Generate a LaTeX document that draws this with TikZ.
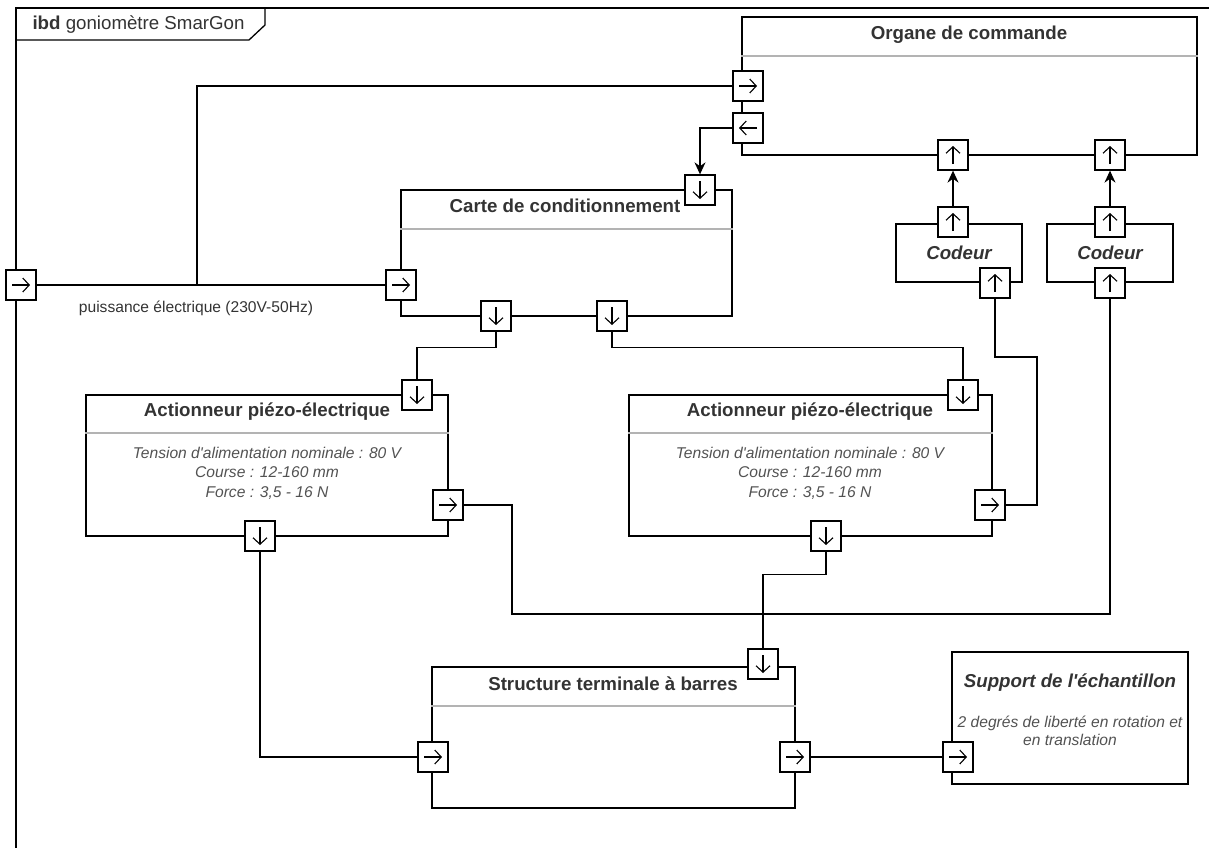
\documentclass[tikz,border=0pt]{standalone}
\usepackage{fontspec}
\setmainfont{Liberation Sans}
\usetikzlibrary{arrows.meta}

\definecolor{txtgray}{HTML}{333333}
\definecolor{sepgray}{HTML}{B3B3B3}

\tikzset{
	block/.style={draw, line width=1.3pt, inner sep=0pt},
	port/.style={draw, fill=white, line width=1.3pt, minimum size=30pt, inner sep=0pt},
	glyph/.style={line width=1.1pt, -{Straight Barb[length=6.5pt,width=14pt]}},
	pR/.style={port, path picture={\draw[glyph] ([xshift=-9pt]path picture bounding box.center) -- ([xshift=9pt]path picture bounding box.center);}},
	pL/.style={port, path picture={\draw[glyph] ([xshift=9pt]path picture bounding box.center) -- ([xshift=-9pt]path picture bounding box.center);}},
	pU/.style={port, path picture={\draw[glyph] ([yshift=-9pt]path picture bounding box.center) -- ([yshift=9pt]path picture bounding box.center);}},
	pD/.style={port, path picture={\draw[glyph] ([yshift=9pt]path picture bounding box.center) -- ([yshift=-9pt]path picture bounding box.center);}},
	wire/.style={line width=1.3pt},
	flow/.style={wire, -{Stealth[length=12pt,width=11pt]}},
	sep/.style={line width=1.8pt, color=sepgray},
	title/.style={font=\fontsize{18.7}{22}\selectfont\bfseries, text=txtgray},
	body/.style={font=\fontsize{15.6}{19.5}\selectfont\itshape, text=txtgray!85, align=center},
}

\begin{document}
\begin{tikzpicture}[x=1pt, y=-1pt]
		%%%%% START %%%%%
		\useasboundingbox (0,0) rectangle (1209,848);
		
		% frame
		\draw[wire] (1209,8) -- (16,8) -- (16,848);
		\draw[wire] (16,40) -- (249,40) -- (265,25) -- (265,8);
		\node[anchor=west, font=\fontsize{18.7}{22}\selectfont, text=txtgray] (frame-t) at (29,25) {\textbf{ibd} goniomètre SmarGon};
		
		% blocks
		\node[block, minimum width=455pt, minimum height=138pt] (organe) at (969.5,86) {};
		\node[block, minimum width=331pt, minimum height=126pt] (carte) at (566.5,253) {};
		\node[block, minimum width=126pt, minimum height=58pt] (cod1) at (959,253) {};
		\node[block, minimum width=126pt, minimum height=58pt] (cod2) at (1110,253) {};
		\node[block, minimum width=362pt, minimum height=141pt] (act1) at (267,465.5) {};
		\node[block, minimum width=363pt, minimum height=141pt] (act2) at (810.5,465.5) {};
		\node[block, minimum width=363pt, minimum height=141pt] (struct) at (613.5,737.5) {};
		\node[block, minimum width=236pt, minimum height=132pt] (support) at (1070,718) {};
		
		\draw[sep] (organe.west |- 0,56) -- (organe.east |- 0,56);
		\draw[sep] (carte.west |- 0,229) -- (carte.east |- 0,229);
		\draw[sep] (act1.west |- 0,433) -- (act1.east |- 0,433);
		\draw[sep] (act2.west |- 0,433) -- (act2.east |- 0,433);
		\draw[sep] (struct.west |- 0,706) -- (struct.east |- 0,706);
		
		% texts
		\node[title] (organe-t) at (969,35) {Organe de commande};
		\node[title] (carte-t) at (565,206) {Carte de conditionnement};
		\node[title, font=\fontsize{18.7}{22}\selectfont\bfseries\itshape] (cod1-t) at (959,253) {Codeur};
		\node[title, font=\fontsize{18.7}{22}\selectfont\bfseries\itshape] (cod2-t) at (1110,253) {Codeur};
		\node[title] (act1-t) at (267,412) {Actionneur piézo-électrique};
		\node[body] (act1-b) at (267,473) {Tension d\textquotesingle alimentation nominale : 80 V\\Course : 12-160 mm\\Force : 3,5 - 16 N};
		\node[title] (act2-t) at (810,412) {Actionneur piézo-électrique};
		\node[body] (act2-b) at (810,473) {Tension d\textquotesingle alimentation nominale : 80 V\\Course : 12-160 mm\\Force : 3,5 - 16 N};
		\node[title] (struct-t) at (613,684) {Structure terminale à barres};
		\node[title, font=\fontsize{18.7}{22}\selectfont\bfseries\itshape] (support-t) at (1070,683) {Support de l\textquotesingle échantillon};
		\node[body, font=\fontsize{15.6}{18}\selectfont\itshape] (support-b) at (1070,731) {2 degrés de liberté en rotation et\\en translation};
		\node[font=\fontsize{15.6}{19}\selectfont, text=txtgray] (pow-t) at (196,308) {puissance électrique (230V-50Hz)};
		
		% ports
		\node[pR] (p-pow) at (21,285) {};
		\node[pR] (p-org-in) at (748,86) {};
		\node[pL] (p-org-out) at (748,128) {};
		\node[pU] (p-org-b1) at (953,155) {};
		\node[pU] (p-org-b2) at (1110,155) {};
		\node[pD] (p-carte-ctl) at (700,190) {};
		\node[pR] (p-carte-in) at (401,285) {};
		\node[pD] (p-carte-b1) at (496,316) {};
		\node[pD] (p-carte-b2) at (612,316) {};
		\node[pU] (p-cod1-top) at (953,222) {};
		\node[pU] (p-cod1-bot) at (995,283) {};
		\node[pU] (p-cod2-top) at (1110,222) {};
		\node[pU] (p-cod2-bot) at (1110,283) {};
		\node[pD] (p-act1-top) at (417,395) {};
		\node[pR] (p-act1-r) at (448,505) {};
		\node[pD] (p-act1-b) at (260,536) {};
		\node[pD] (p-act2-top) at (963,395) {};
		\node[pR] (p-act2-r) at (990,505) {};
		\node[pD] (p-act2-b) at (826,536) {};
		\node[pD] (p-str-top) at (763,664) {};
		\node[pR] (p-str-l) at (433,757) {};
		\node[pR] (p-str-r) at (795,757) {};
		\node[pR] (p-sup) at (958,757) {};
		
		% wires
		\coordinate (j-pow) at (197,285);
		\draw[wire] (p-pow.east) -- (p-carte-in.west);
		\draw[wire] (j-pow) |- (p-org-in.west);
		\draw[flow] (p-org-out.west) -| (p-carte-ctl.north);
		\draw[flow] (p-cod1-top.north) -- (p-org-b1.south);
		\draw[flow] (p-cod2-top.north) -- (p-org-b2.south);
		\draw[wire] (p-carte-b1.south) -- ++(0,16) -| (p-act1-top.north);
		\draw[wire] (p-carte-b2.south) -- ++(0,16) -| (p-act2-top.north);
		\draw[wire] (p-cod1-bot.south) |- (1037,357) |- (p-act2-r.east);
		\draw[wire] (p-cod2-bot.south) |- (512,614) |- (p-act1-r.east);
		\draw[wire] (p-act2-b.south) -- ++(0,23) -| (p-str-top.north);
		\draw[wire] (p-act1-b.south) |- (p-str-l.west);
		\draw[wire] (p-str-r.east) -- (p-sup.west);
		
		%%%%% END %%%%%
	\end{tikzpicture}
\end{document}
